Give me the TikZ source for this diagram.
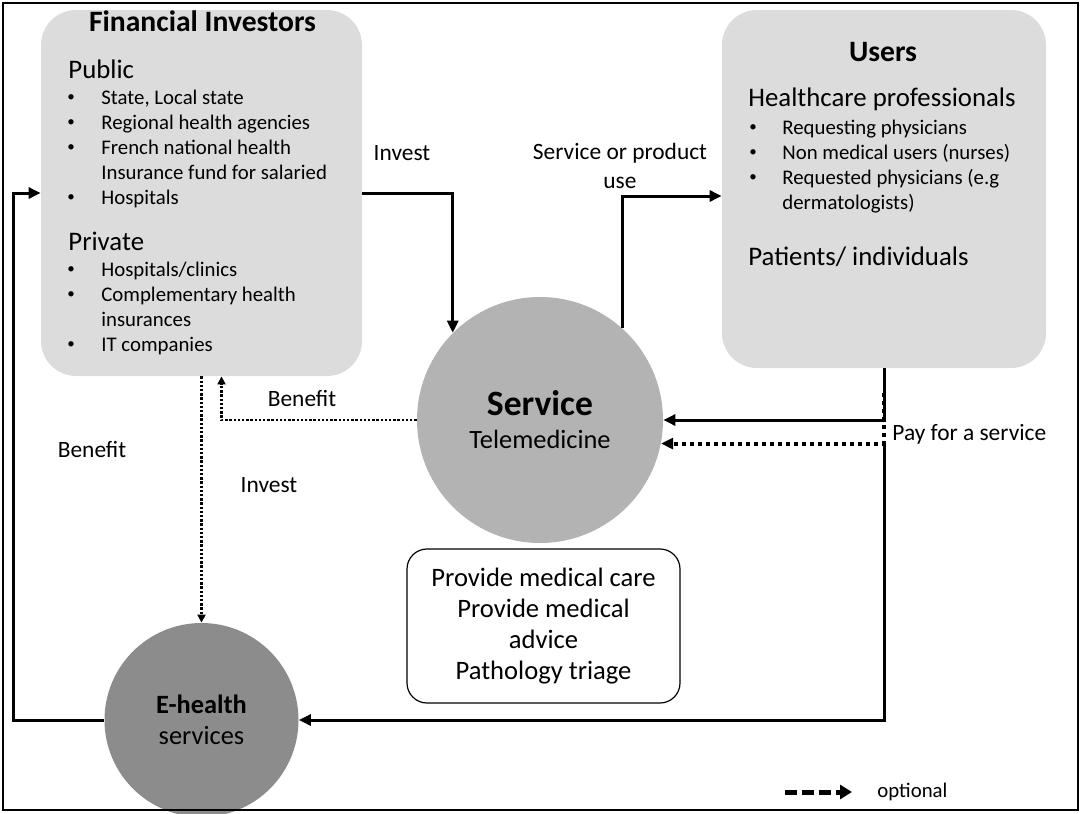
\documentclass[tikz,border=0pt]{standalone}
\usepackage{fontspec}
\setmainfont{Carlito}
\usepackage{tikz}
\usetikzlibrary{arrows.meta,positioning}
\definecolor{boxgray}{RGB}{220,220,220}
\definecolor{svgray}{RGB}{179,179,179}
\definecolor{ehgray}{RGB}{140,140,140}
\newcommand{\bul}{\raisebox{1.3pt}{\fontsize{7.5}{7.5}\selectfont\textbullet}}
\tikzset{
  grp/.style={fill=boxgray,rounded corners=17.5pt,inner sep=0pt},
  ttl/.style={font=\fontsize{14.8}{17}\selectfont\bfseries,anchor=base,inner sep=0pt},
  hd/.style={font=\fontsize{13.4}{16}\selectfont,anchor=base west,inner sep=0pt},
  lst/.style={font=\fontsize{10.4}{12.5}\selectfont,anchor=base west,inner sep=0pt},
  lbl/.style={font=\fontsize{11.7}{14.5}\selectfont,inner sep=0pt},
  a/.style={-{Triangle[length=6pt,width=5.5pt]},line width=1.5pt}
}

\begin{document}
\begin{tikzpicture}[x=0.5pt,y=-0.5pt,
 circ/.style={circle,inner sep=0pt,align=center},
 dt/.style={-{Triangle[length=6pt,width=5.5pt]},line width=2pt,dash pattern=on 2pt off 2pt},
 ds/.style={-{Triangle[length=4pt,width=4pt]},line width=1.2pt,dash pattern=on 1.2pt off 0.9pt},
 leg/.style={-{Triangle[length=6pt,width=7pt]},line width=2.5pt,dash pattern=on 6pt off 2.5pt}]
\useasboundingbox (0,0) rectangle (1082,814);
% actors
\node[grp,minimum width=160.5pt,minimum height=183pt] (fi) at (201.5,193) {};
\node[grp,minimum width=162pt,minimum height=179pt] (us) at (884,189) {};
\node[circ,fill=svgray,minimum size=123pt,font=\fontsize{13.2}{16.5}\selectfont] (sv) at (540,420) {{\fontsize{17.8}{20}\selectfont\bfseries Service}\\Telemedicine};
\node[circ,fill=ehgray,minimum size=97pt,font=\fontsize{13.2}{15.5}\selectfont] (eh) at (201.5,720) {\textbf{E-health}\\services};
\node[draw,rounded corners=10pt,line width=0.6pt,minimum width=136.5pt,minimum height=77pt,align=center,font=\fontsize{13.3}{15.5}\selectfont] (tk) at (543.5,626) {Provide medical care\\Provide medical\\advice\\Pathology triage};
% box contents
\node[ttl] (fiT) at (202.5,31) {Financial Investors};
\node[hd] (pub) at (68,78) {Public};
\node[lst] (pubL) at (67,104) {\begin{tabular}[t]{@{}p{17pt}@{}l@{}}
 \bul & State, Local state\\ \bul & Regional health agencies\\
 \bul & French national health\\ & Insurance fund for salaried\\ \bul & Hospitals\end{tabular}};
\node[hd] (pri) at (68,250) {Private};
\node[lst] (priL) at (67,276) {\begin{tabular}[t]{@{}p{17pt}@{}l@{}}
 \bul & Hospitals/clinics\\ \bul & Complementary health\\ & insurances\\ \bul & IT companies\end{tabular}};
\node[ttl] (usT) at (883,61) {Users};
\node[hd] (hcp) at (748,106) {Healthcare professionals};
\node[lst] (hcpL) at (749,134) {\begin{tabular}[t]{@{}p{16.5pt}@{}l@{}}
 \bul & Requesting physicians\\ \bul & Non medical users (nurses)\\
 \bul & Requested physicians (e.g\\ & dermatologists)\end{tabular}};
\node[hd] (pat) at (748,265) {Patients/ individuals};
% flow labels
\node[lbl,anchor=base] (inv) at (402,160) {Invest};
\node[lbl,align=center] (use) at (620,166) {Service or product\\use};
\node[lbl,anchor=base] (ben) at (302,406) {Benefit};
\node[lbl,anchor=base] (inv2) at (269,492) {Invest};
\node[lbl,anchor=base] (ben2) at (92,457) {Benefit};
\node[lbl,anchor=base west] (pay) at (892,440) {Pay for a service};
% flows
\draw[a] (fi.east) -| (sv.135);
\draw[a] (sv.48) |- ([yshift=-3.5pt]us.west);
\draw[a] (us.south) |- (sv.east);
\draw[dt] ([yshift=-12.5pt]us.south) |- (sv.-11);
\draw[a] ([yshift=-37.5pt]us.south) |- (eh.east);
\draw[ds] (sv.west) -| ([xshift=10pt]fi.south);
\draw[ds] (fi.south) -- (eh.north);
\coordinate (lc) at (13,720);
\draw[a] (eh.west) -- (lc) |- (fi.west);
% legend
\coordinate (lg1) at (785,792);
\coordinate (lg2) at (852,792);
\draw[leg] (lg1) -- (lg2);
\node[font=\fontsize{10.4}{12}\selectfont,anchor=base west,inner sep=0pt] (opt) at (877,797) {optional};
\draw[line width=1pt] (3,3) rectangle (1078,810);
\end{tikzpicture}
\end{document}
